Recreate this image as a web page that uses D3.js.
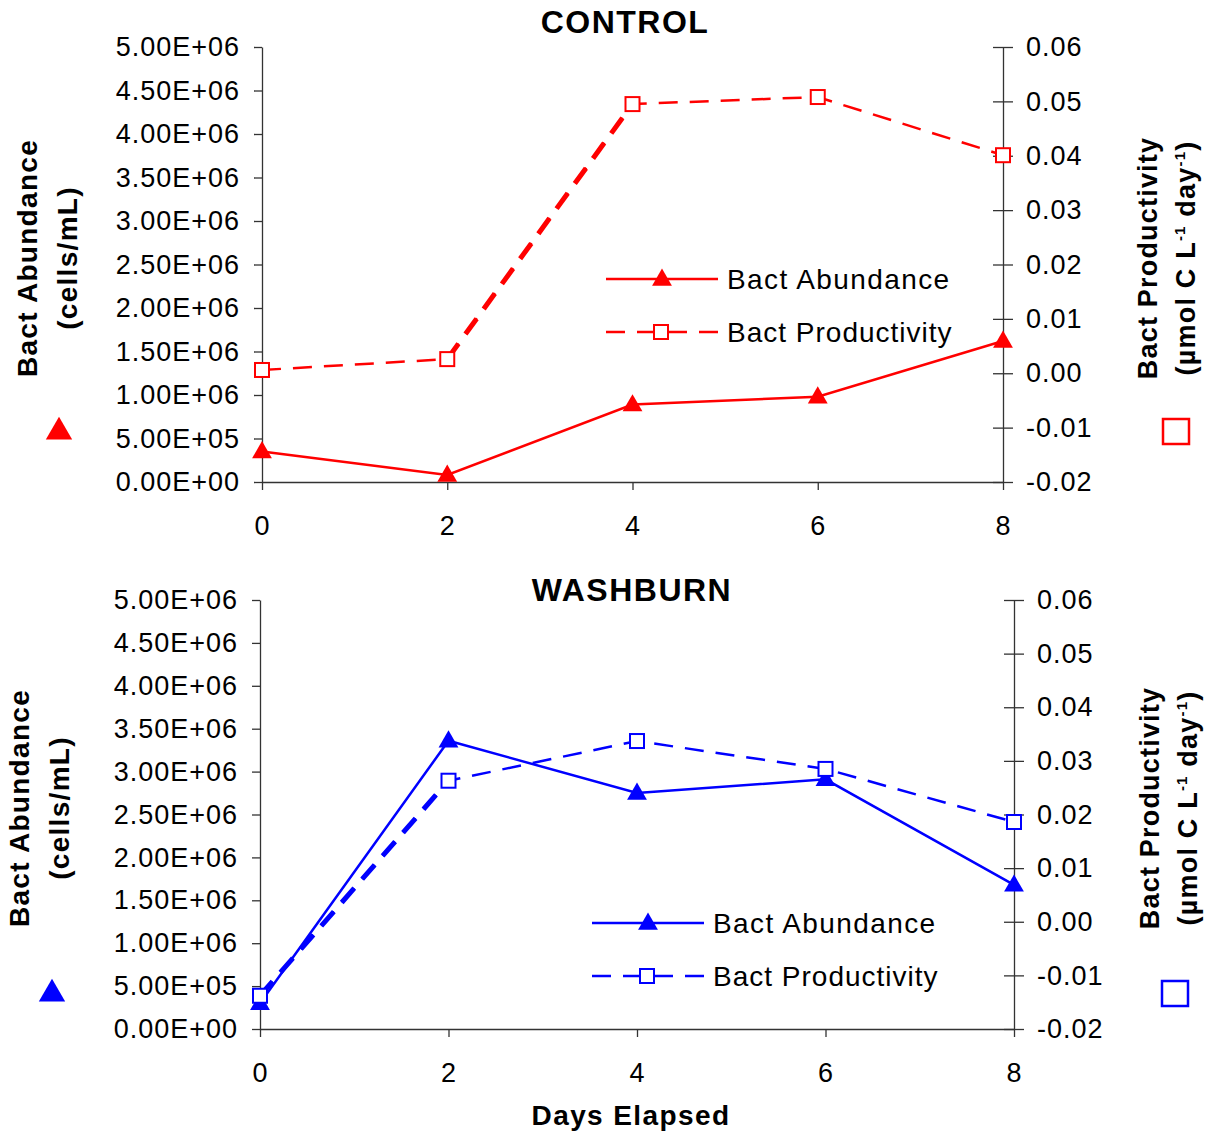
<!DOCTYPE html>
<html>
<head>
<meta charset="utf-8">
<script src="https://cdn.jsdelivr.net/npm/d3@7"></script>
<style>
  body { margin: 0; background: #fff; }
  text { font-family: "Liberation Sans", Arial, sans-serif; }
</style>
</head>
<body>
<div id="chart"></div>
<script>
var svgWidth = 1215;
var svgHeight = 1134;

// data
var days = [0, 2, 4, 6, 8];
var controlAbundance = [350000, 80000, 890000, 980000, 1620000];
var controlProductivity = [0.0006, 0.0026, 0.0495, 0.0508, 0.0401];
var washburnAbundance = [300000, 3360000, 2750000, 2910000, 1680000];
var washburnProductivity = [-0.0138, 0.0263, 0.0337, 0.0285, 0.0186];

var abundanceTicks = [0, 500000, 1000000, 1500000, 2000000, 2500000, 3000000, 3500000, 4000000, 4500000, 5000000];
var productivityTicks = [-0.02, -0.01, 0, 0.01, 0.02, 0.03, 0.04, 0.05, 0.06];
var dayTicks = [0, 2, 4, 6, 8];

var svg = d3.select("#chart")
  .append("svg")
  .attr("width", svgWidth)
  .attr("height", svgHeight);

// Excel style 5.00E+06
function sciFormat(v) {
  if (v === 0) return "0.00E+00";
  var e = Math.floor(Math.log10(v));
  var m = v / Math.pow(10, e);
  return m.toFixed(2) + "E+" + String(e).padStart(2, "0");
}
// plain hyphen minus like the original
function decFormat(v) {
  return v.toFixed(2);
}

var panels = [
  {
    title: "CONTROL", color: "#ff0000",
    abundance: controlAbundance, productivity: controlProductivity,
    left: 262, right: 1003, top: 47, bottom: 482,
    titleX: 625, titleY: 33, legendX: 606, legendY: 279, yTitleCenter: 258,
    leftTitleX: 27, rightTitleX: 1148, triX: 59, triY: 432, sqX: 1176, sqY: 431,
    steepSeg: 1
  },
  {
    title: "WASHBURN", color: "#0000ff",
    abundance: washburnAbundance, productivity: washburnProductivity,
    left: 260, right: 1014, top: 600, bottom: 1029,
    titleX: 632, titleY: 601, legendX: 592, legendY: 923, yTitleCenter: 808,
    leftTitleX: 19, rightTitleX: 1150, triX: 52, triY: 994, sqX: 1175, sqY: 993,
    steepSeg: 0
  }
];

var axisColor = "#333";
var fontSize = 27;
var spacing = 1;

panels.forEach(function(p, pi) {
  var g = svg.append("g");

  var x = d3.scaleLinear().domain([0, 8]).range([p.left, p.right]);
  var yL = d3.scaleLinear().domain([0, 5000000]).range([p.bottom, p.top]);
  var yR = d3.scaleLinear().domain([-0.02, 0.06]).range([p.bottom, p.top]);

  // title
  g.append("text")
    .attr("x", p.titleX)
    .attr("y", p.titleY)
    .attr("text-anchor", "middle")
    .attr("font-size", 32)
    .attr("font-weight", "bold")
    .attr("letter-spacing", 1.5)
    .text(p.title);

  // left axis
  var leftAxis = d3.axisLeft(yL).tickValues(abundanceTicks).tickFormat(sciFormat)
    .tickSizeInner(8).tickSizeOuter(0).tickPadding(14);
  var la = g.append("g").attr("transform", "translate(" + p.left + ",0)").call(leftAxis);

  // right axis, ticks cross the line
  var rightAxis = d3.axisRight(yR).tickValues(productivityTicks).tickFormat(decFormat)
    .tickSizeInner(10).tickSizeOuter(0).tickPadding(13);
  var ra = g.append("g").attr("transform", "translate(" + p.right + ",0)").call(rightAxis);
  ra.selectAll(".tick line").attr("x1", -10);

  // bottom axis
  var bottomAxis = d3.axisBottom(x).tickValues(dayTicks).tickFormat(d3.format("d"))
    .tickSizeInner(8).tickSizeOuter(0).tickPadding(26);
  var ba = g.append("g").attr("transform", "translate(0," + p.bottom + ")").call(bottomAxis);

  [la, ra, ba].forEach(function(a) {
    a.select(".domain").attr("stroke", axisColor).attr("stroke-width", 1.3);
    a.selectAll(".tick line").attr("stroke", axisColor).attr("stroke-width", 1.3);
    a.selectAll(".tick text").attr("font-size", fontSize).attr("fill", "#000")
      .attr("letter-spacing", spacing)
      .attr("font-family", "Liberation Sans, Arial, sans-serif");
  });

  // left axis title
  var lt = g.append("text")
    .attr("transform", "translate(" + p.leftTitleX + "," + p.yTitleCenter + ") rotate(-90)")
    .attr("text-anchor", "middle")
    .attr("font-size", 28)
    .attr("letter-spacing", 1.3)
    .attr("font-weight", "bold");
  lt.append("tspan").attr("x", 0).attr("dy", "0.35em").text("Bact Abundance");
  lt.append("tspan").attr("x", 0).attr("dy", "1.45em").text("(cells/mL)");

  // right axis title, superscripts shifted by fixed pixels
  var rt = g.append("text")
    .attr("transform", "translate(" + p.rightTitleX + "," + p.yTitleCenter + ") rotate(-90)")
    .attr("text-anchor", "middle")
    .attr("font-size", 27)
    .attr("letter-spacing", 1.2)
    .attr("font-weight", "bold");
  rt.append("tspan").attr("x", 0).attr("dy", "0.35em").text("Bact Productivity");
  var t2 = rt.append("tspan").attr("x", 0).attr("dy", "1.4em");
  t2.append("tspan").text("(\u00B5mol C L");
  t2.append("tspan").attr("font-size", 15).attr("dy", -10).text("-1");
  t2.append("tspan").attr("dy", 10).text(" day");
  t2.append("tspan").attr("font-size", 15).attr("dy", -10).text("-1");
  t2.append("tspan").attr("dy", 10).text(")");

  // side symbols
  g.append("path")
    .attr("d", d3.symbol().type(d3.symbolTriangle).size(300)())
    .attr("transform", "translate(" + p.triX + "," + p.triY + ")")
    .attr("fill", p.color);
  g.append("rect")
    .attr("x", p.sqX - 13).attr("y", p.sqY - 12)
    .attr("width", 26).attr("height", 25)
    .attr("fill", "none").attr("stroke", p.color).attr("stroke-width", 2.5);

  var abData = days.map(function(d, i) { return [d, p.abundance[i]]; });
  var prData = days.map(function(d, i) { return [d, p.productivity[i]]; });

  // abundance line
  g.append("path")
    .datum(abData)
    .attr("fill", "none")
    .attr("stroke", p.color)
    .attr("stroke-width", 2.5)
    .attr("d", d3.line().x(d => x(d[0])).y(d => yL(d[1])));

  // productivity line (dashed)
  g.append("path")
    .datum(prData)
    .attr("fill", "none")
    .attr("stroke", p.color)
    .attr("stroke-width", 2.5)
    .attr("stroke-dasharray", "19,12")
    .attr("d", d3.line().x(d => x(d[0])).y(d => yR(d[1])));

  // the steep segment looks heavier in the original
  g.append("path")
    .datum(prData.slice(p.steepSeg, p.steepSeg + 2))
    .attr("fill", "none")
    .attr("stroke", p.color)
    .attr("stroke-width", 5)
    .attr("stroke-dasharray", "19,12")
    .attr("d", d3.line().x(d => x(d[0])).y(d => yR(d[1])));

  // markers
  g.selectAll(".tri")
    .data(abData)
    .enter()
    .append("path")
    .attr("d", d3.symbol().type(d3.symbolTriangle).size(170)())
    .attr("transform", d => "translate(" + x(d[0]) + "," + (yL(d[1]) + 1) + ")")
    .attr("fill", p.color);

  g.selectAll(".sq")
    .data(prData)
    .enter()
    .append("rect")
    .attr("x", d => x(d[0]) - 7)
    .attr("y", d => yR(d[1]) - 7)
    .attr("width", 14).attr("height", 14)
    .attr("fill", "#fff")
    .attr("stroke", p.color)
    .attr("stroke-width", 2);

  // legend
  var lg = g.append("g").attr("transform", "translate(" + p.legendX + "," + p.legendY + ")");
  lg.append("line").attr("x1", 0).attr("x2", 112).attr("y1", 0).attr("y2", 0)
    .attr("stroke", p.color).attr("stroke-width", 2.5);
  lg.append("path")
    .attr("d", d3.symbol().type(d3.symbolTriangle).size(170)())
    .attr("transform", "translate(56,1)")
    .attr("fill", p.color);
  lg.append("text").attr("x", 121).attr("y", 10).attr("font-size", 28)
    .attr("letter-spacing", 1.4).text("Bact Abundance");

  lg.append("line").attr("x1", 0).attr("x2", 112).attr("y1", 53).attr("y2", 53)
    .attr("stroke", p.color).attr("stroke-width", 2.5)
    .attr("stroke-dasharray", "19,12");
  lg.append("rect").attr("x", 48).attr("y", 46).attr("width", 14).attr("height", 14)
    .attr("fill", "#fff").attr("stroke", p.color).attr("stroke-width", 2);
  lg.append("text").attr("x", 121).attr("y", 63).attr("font-size", 28)
    .attr("letter-spacing", 1.0).text("Bact Productivity");
});

// x axis title
svg.append("text")
  .attr("x", 631)
  .attr("y", 1125)
  .attr("text-anchor", "middle")
  .attr("font-size", 28)
  .attr("font-weight", "bold")
  .attr("letter-spacing", 1.4)
  .text("Days Elapsed");
</script>
</body>
</html>
